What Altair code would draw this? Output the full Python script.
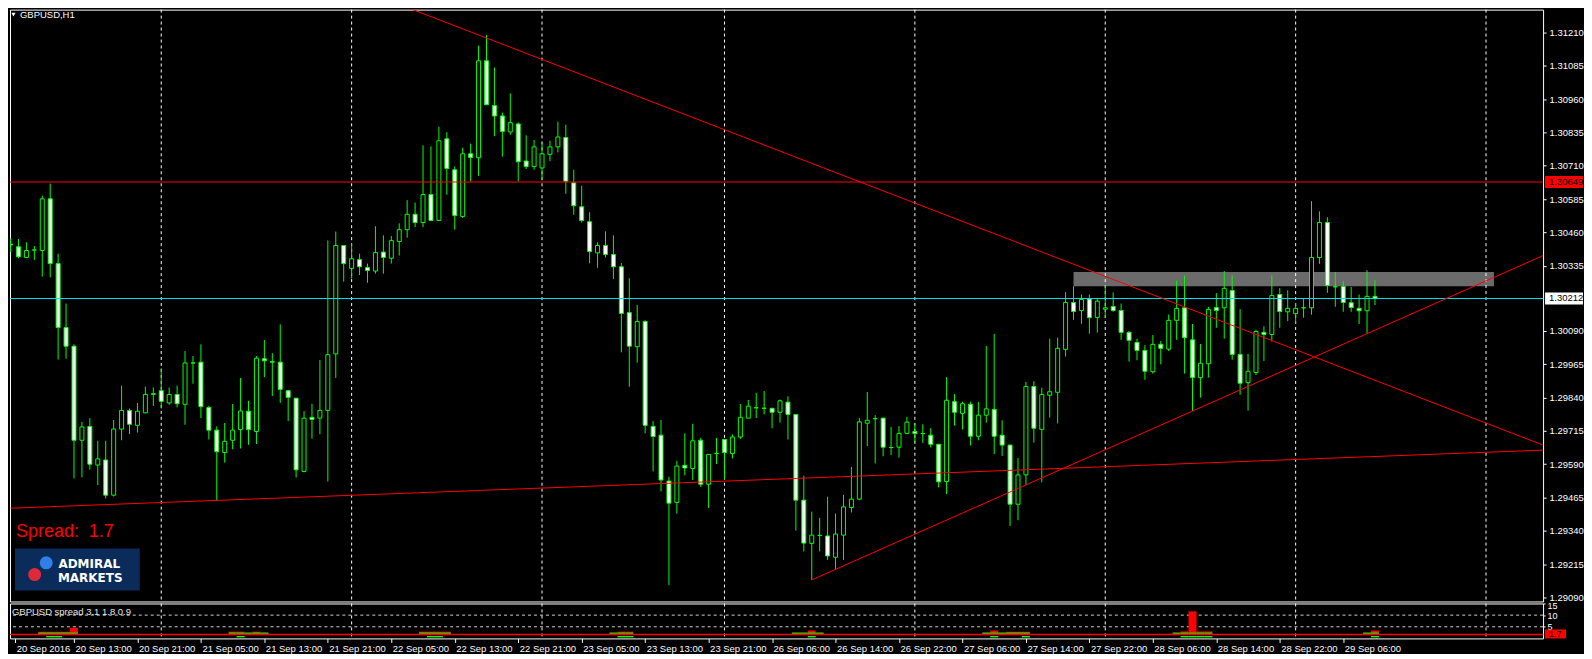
import json
import altair as alt
import pandas as pd

# ---------------- data (GBPUSD H1, bars indexed from 20 Sep 2016 05:00) ----------------
opens = [1.30416, 1.30406, 1.30366, 1.30394, 1.30392, 1.30586, 1.30343, 1.30103, 1.30033, 1.29680,
         1.29732, 1.29587, 1.29606, 1.29474, 1.29722, 1.29792, 1.29736, 1.29783, 1.29852, 1.29866,
         1.29820, 1.29852, 1.29815, 1.29970, 1.29973, 1.29803, 1.29718, 1.29634, 1.29680, 1.29720,
         1.29789, 1.29713, 1.29986, 1.29975, 1.29973, 1.29866, 1.29838, 1.29563, 1.29766, 1.29763,
         1.29792, 1.30004, 1.30411, 1.30325, 1.30358, 1.30328, 1.30315, 1.30386, 1.30363, 1.30426,
         1.30470, 1.30528, 1.30497, 1.30602, 1.30505, 1.30811, 1.30695, 1.30520, 1.30755, 1.30740,
         1.31104, 1.30936, 1.30897, 1.30837, 1.30867, 1.30728, 1.30707, 1.30702, 1.30753, 1.30781,
         1.30816, 1.30646, 1.30556, 1.30500, 1.30383, 1.30411, 1.30377, 1.30331, 1.30159, 1.30031,
         1.30126, 1.29732, 1.29699, 1.29527, 1.29447, 1.29586, 1.29574, 1.29680, 1.29515, 1.29630,
         1.29683, 1.29630, 1.29692, 1.29763, 1.29802, 1.29800, 1.29800, 1.29785, 1.29823, 1.29777,
         1.29455, 1.29293, 1.29323, 1.29321, 1.29241, 1.29324, 1.29428, 1.29459, 1.29744, 1.29761,
         1.29763, 1.29653, 1.29654, 1.29706, 1.29713, 1.29705, 1.29699, 1.29665, 1.29525, 1.29825,
         1.29781, 1.29815, 1.29695, 1.29774, 1.29796, 1.29699, 1.29662, 1.29440, 1.29550, 1.29882,
         1.29721, 1.29849, 1.29860, 1.30021, 1.30197, 1.30167, 1.30210, 1.30141, 1.30172, 1.30182,
         1.30167, 1.30085, 1.30047, 1.30017, 1.29937, 1.30040, 1.30022, 1.30130, 1.30177, 1.30057,
         1.29915, 1.29967, 1.30178, 1.30177, 1.30242, 1.30002, 1.29896, 1.29934, 1.30085, 1.30077,
         1.30227, 1.30162, 1.30155, 1.30177, 1.30177, 1.30366, 1.30497, 1.30256, 1.30257, 1.30196,
         1.30175, 1.30166, 1.30220]
highs = [1.30437, 1.30435, 1.30423, 1.30409, 1.30598, 1.30643, 1.30380, 1.30193, 1.30040, 1.29749,
         1.29763, 1.29678, 1.29678, 1.29756, 1.29885, 1.29799, 1.29820, 1.29881, 1.29878, 1.29950,
         1.29878, 1.29885, 1.30015, 1.29996, 1.30040, 1.29809, 1.29732, 1.29745, 1.29816, 1.29914,
         1.29828, 1.29996, 1.30056, 1.30007, 1.30115, 1.29869, 1.29838, 1.29789, 1.29817, 1.29981,
         1.30430, 1.30463, 1.30411, 1.30417, 1.30380, 1.30343, 1.30483, 1.30449, 1.30446, 1.30494,
         1.30581, 1.30572, 1.30787, 1.30783, 1.30857, 1.30836, 1.30707, 1.30778, 1.30793, 1.31161,
         1.31201, 1.31079, 1.30910, 1.30982, 1.30873, 1.30824, 1.30807, 1.30798, 1.30804, 1.30876,
         1.30864, 1.30695, 1.30635, 1.30536, 1.30423, 1.30464, 1.30449, 1.30345, 1.30288, 1.30188,
         1.30130, 1.29752, 1.29756, 1.29543, 1.29603, 1.29706, 1.29742, 1.29689, 1.29627, 1.29689,
         1.29683, 1.29702, 1.29816, 1.29831, 1.29858, 1.29865, 1.29800, 1.29833, 1.29845, 1.29777,
         1.29547, 1.29412, 1.29389, 1.29468, 1.29405, 1.29475, 1.29580, 1.29764, 1.29861, 1.29774,
         1.29763, 1.29730, 1.29733, 1.29768, 1.29743, 1.29740, 1.29725, 1.29665, 1.29917, 1.29853,
         1.29825, 1.29825, 1.29824, 1.30034, 1.30079, 1.29755, 1.29662, 1.29614, 1.29899, 1.29902,
         1.29877, 1.30061, 1.30065, 1.30236, 1.30258, 1.30227, 1.30227, 1.30210, 1.30261, 1.30235,
         1.30193, 1.30090, 1.30061, 1.30037, 1.30075, 1.30052, 1.30152, 1.30279, 1.30298, 1.30116,
         1.30041, 1.30181, 1.30232, 1.30315, 1.30299, 1.30172, 1.30004, 1.30095, 1.30108, 1.30299,
         1.30251, 1.30243, 1.30195, 1.30212, 1.30577, 1.30539, 1.30517, 1.30311, 1.30277, 1.30255,
         1.30227, 1.30318, 1.30281]
lows = [1.30387, 1.30363, 1.30363, 1.30357, 1.30294, 1.30291, 1.29983, 1.29986, 1.29537, 1.29541,
        1.29570, 1.29512, 1.29462, 1.29469, 1.29680, 1.29703, 1.29709, 1.29781, 1.29809, 1.29799,
        1.29813, 1.29803, 1.29738, 1.29892, 1.29763, 1.29683, 1.29455, 1.29596, 1.29646, 1.29649,
        1.29663, 1.29666, 1.29917, 1.29846, 1.29820, 1.29752, 1.29540, 1.29560, 1.29686, 1.29703,
        1.29525, 1.29914, 1.30275, 1.30287, 1.30300, 1.30271, 1.30305, 1.30305, 1.30343, 1.30373,
        1.30440, 1.30480, 1.30480, 1.30502, 1.30502, 1.30601, 1.30470, 1.30515, 1.30652, 1.30672,
        1.30939, 1.30821, 1.30744, 1.30826, 1.30652, 1.30698, 1.30695, 1.30658, 1.30727, 1.30760,
        1.30605, 1.30526, 1.30497, 1.30344, 1.30327, 1.30366, 1.30285, 1.30010, 1.29881, 1.29971,
        1.29706, 1.29563, 1.29488, 1.29136, 1.29405, 1.29548, 1.29531, 1.29505, 1.29426, 1.29591,
        1.29534, 1.29612, 1.29685, 1.29763, 1.29763, 1.29777, 1.29725, 1.29746, 1.29683, 1.29341,
        1.29263, 1.29156, 1.29263, 1.29231, 1.29196, 1.29231, 1.29409, 1.29455, 1.29658, 1.29593,
        1.29620, 1.29625, 1.29615, 1.29703, 1.29671, 1.29670, 1.29653, 1.29503, 1.29478, 1.29735,
        1.29720, 1.29660, 1.29680, 1.29746, 1.29628, 1.29621, 1.29358, 1.29380, 1.29513, 1.29671,
        1.29522, 1.29765, 1.29743, 1.29994, 1.30132, 1.30117, 1.30080, 1.30084, 1.30140, 1.30162,
        1.30057, 1.29975, 1.29980, 1.29907, 1.29930, 1.29965, 1.30015, 1.30057, 1.29930, 1.29790,
        1.29840, 1.29915, 1.30102, 1.30061, 1.29982, 1.29851, 1.29791, 1.29925, 1.29977, 1.30051,
        1.30102, 1.30127, 1.30117, 1.30140, 1.30151, 1.30342, 1.30233, 1.30181, 1.30162, 1.30162,
        1.30116, 1.30082, 1.30187]
closes = [1.30413, 1.30369, 1.30392, 1.30394, 1.30586, 1.30343, 1.30103, 1.30033, 1.29680, 1.29730,
          1.29590, 1.29610, 1.29474, 1.29722, 1.29792, 1.29740, 1.29789, 1.29852, 1.29855, 1.29826,
          1.29852, 1.29817, 1.29970, 1.29970, 1.29806, 1.29718, 1.29637, 1.29676, 1.29718, 1.29790,
          1.29720, 1.29988, 1.29978, 1.29973, 1.29871, 1.29841, 1.29569, 1.29763, 1.29758, 1.29792,
          1.30001, 1.30411, 1.30343, 1.30361, 1.30331, 1.30317, 1.30384, 1.30366, 1.30429, 1.30470,
          1.30528, 1.30497, 1.30602, 1.30505, 1.30804, 1.30700, 1.30523, 1.30755, 1.30741, 1.31104,
          1.30939, 1.30897, 1.30839, 1.30872, 1.30725, 1.30707, 1.30781, 1.30755, 1.30781, 1.30818,
          1.30652, 1.30560, 1.30505, 1.30388, 1.30411, 1.30377, 1.30331, 1.30156, 1.30033, 1.30126,
          1.29736, 1.29694, 1.29531, 1.29444, 1.29583, 1.29576, 1.29678, 1.29515, 1.29627, 1.29630,
          1.29634, 1.29692, 1.29766, 1.29808, 1.29802, 1.29800, 1.29785, 1.29828, 1.29777, 1.29455,
          1.29294, 1.29324, 1.29323, 1.29246, 1.29328, 1.29430, 1.29459, 1.29749, 1.29755, 1.29761,
          1.29654, 1.29653, 1.29706, 1.29748, 1.29705, 1.29705, 1.29665, 1.29524, 1.29830, 1.29785,
          1.29817, 1.29695, 1.29774, 1.29798, 1.29695, 1.29662, 1.29440, 1.29550, 1.29882, 1.29725,
          1.29852, 1.29862, 1.30025, 1.30197, 1.30163, 1.30208, 1.30140, 1.30202, 1.30177, 1.30167,
          1.30085, 1.30055, 1.30017, 1.29939, 1.30040, 1.30025, 1.30130, 1.30175, 1.30065, 1.29915,
          1.29969, 1.30171, 1.30167, 1.30250, 1.30002, 1.29894, 1.29939, 1.30088, 1.30077, 1.30223,
          1.30163, 1.30175, 1.30175, 1.30177, 1.30366, 1.30497, 1.30261, 1.30256, 1.30197, 1.30178,
          1.30166, 1.30220, 1.30213]
bar_index = list(range(len(opens)))

tick_idx = [0, 8, 16, 24, 32, 40, 48, 56, 64, 72, 80, 88, 96, 104, 112, 120, 128, 136, 144, 152, 160, 168]
tick_labels = ["20 Sep 2016", "20 Sep 13:00", "20 Sep 21:00", "21 Sep 05:00", "21 Sep 13:00",
               "21 Sep 21:00", "22 Sep 05:00", "22 Sep 13:00", "22 Sep 21:00", "23 Sep 05:00",
               "23 Sep 13:00", "23 Sep 21:00", "26 Sep 06:00", "26 Sep 14:00", "26 Sep 22:00",
               "27 Sep 06:00", "27 Sep 14:00", "27 Sep 22:00", "28 Sep 06:00", "28 Sep 14:00",
               "28 Sep 22:00", "29 Sep 06:00"]
day_sep_idx = [19, 43, 67, 90, 114, 138, 162, 186]

price_ticks = [1.31210, 1.31085, 1.30960, 1.30835, 1.30710, 1.30585, 1.30460, 1.30335,
               1.30090, 1.29965, 1.29840, 1.29715, 1.29590, 1.29465, 1.29340, 1.29215, 1.29090]
level_price = 1.30649
bid_price = 1.30212

zone_x = [134, 187]
zone_p = [1.30258, 1.30311]

trend_name = ["down", "down", "up", "up", "base", "base"]
trend_x = [48.7, 193.19, 101, 193.19, 0, 193.19]
trend_p = [1.31319, 1.29662, 1.29156, 1.30373, 1.29425, 1.29643]

spread_idx = [4, 5, 6, 7, 8, 28, 29, 30, 31, 32, 52, 53, 54, 55, 76, 77, 78,
              99, 100, 101, 102, 123, 124, 125, 126, 127, 128, 147, 148, 149, 150, 151, 171, 172]
spread_max = [2.85, 2.85, 2.85, 2.85, 4.6, 2.9, 2.9, 2.4, 2.9, 2.4, 2.9, 2.9, 2.9, 2.9, 2.4, 2.9, 2.9,
              2.4, 2.4, 3.4, 2.4, 2.4, 3.4, 2.4, 2.85, 2.85, 2.85, 2.4, 3.0, 11.6, 3.0, 3.0, 2.4, 3.4]
spread_avg = [2.3] * len(spread_idx)
spread_low_idx = [5, 6, 29, 53, 54, 77, 78, 101, 124, 128, 148, 149, 150, 151, 172]
spread_low_lo = [0.45] * len(spread_low_idx)
spread_low_hi = [1.05] * len(spread_low_idx)
spread_now = 1.7
spread_levels = [5, 10]
spread_ticks = [5, 10, 15]

# ---------------- styling ----------------
FONT = "Liberation Sans"
LIME = "#00ff00"
W, H_MAIN, H_SPREAD = 1536, 593, 35
X_DOMAIN = [0.5625, 0.5625 + W / 8]
Y_DOMAIN = [1.29075, 1.31296]

xs = alt.Scale(domain=X_DOMAIN, nice=False, zero=False)
ys = alt.Scale(domain=Y_DOMAIN, nice=False, zero=False)
ss = alt.Scale(domain=[0, 15], nice=False, zero=False)
NOX = alt.X("i:Q", scale=xs, axis=None)

price_axis = alt.Axis(orient="right", values=price_ticks, format=".5f", title=None, grid=False,
                      domain=False, tickSize=3, tickColor="white", labelColor="white",
                      labelFont=FONT, labelFontSize=9.5, labelPadding=3, labelOverlap=False)
tick_vals = [max(v, X_DOMAIN[0] + 0.02) for v in tick_idx]
x_axis = alt.Axis(orient="bottom", values=tick_vals, title=None, grid=False, domain=False,
                  labelExpr=f"{json.dumps(tick_labels)}[round(datum.value/8)]",
                  labelAlign="left", labelBaseline="top", labelFlush=False, labelOverlap=False,
                  tickSize=4, tickColor="white", labelColor="white", labelFont=FONT,
                  labelFontSize=9.5, labelPadding=1, labelOffset=1)
s_axis = alt.Axis(orient="right", values=spread_ticks, title=None, grid=False, domain=False,
                  tickSize=2, tickColor="white", labelColor="white", labelFont=FONT,
                  labelFontSize=9, labelPadding=2, labelFlush=True, labelFlushOffset=2,
                  labelOverlap=False)


def PY(field):
    return alt.Y(field, scale=ys, axis=price_axis)


def SY(field):
    return alt.Y(field, scale=ss, axis=s_axis)


def SX(field):
    return alt.X(field, scale=xs, axis=x_axis)


candles = pd.DataFrame({"i": bar_index, "open": opens, "high": highs, "low": lows, "close": closes})
candles["dir"] = ["bear" if c < o else "bull" for o, c in zip(opens, closes)]
one = pd.DataFrame({"v": [0]})

zone = alt.Chart(pd.DataFrame({"x0": [zone_x[0]], "x1": [zone_x[1]], "p0": [zone_p[0]], "p1": [zone_p[1]]})
                 ).mark_rect(color="#6b6b6b", clip=True).encode(
    x=alt.X("x0:Q", scale=xs, axis=None), x2="x1:Q", y=PY("p0:Q"), y2="p1:Q")

seps_main = alt.Chart(pd.DataFrame({"i": day_sep_idx})).mark_rule(
    color="white", strokeDash=[3, 3], strokeWidth=1).encode(x=NOX)

wicks = alt.Chart(candles).mark_rule(color=LIME, strokeWidth=1, clip=True).encode(
    x=NOX, y=PY("low:Q"), y2="high:Q")

bodies = alt.Chart(candles).mark_bar(size=4, stroke=LIME, strokeWidth=1, clip=True).encode(
    x=NOX, y=PY("open:Q"), y2="close:Q",
    fill=alt.Fill("dir:N", scale=alt.Scale(domain=["bear", "bull"], range=["#ffffff", "#000000"]), legend=None))

hl_df = pd.DataFrame({"p": [level_price, bid_price], "c": ["#ff0000", "#00e0e8"]})
hlines = alt.Chart(hl_df).mark_rule(strokeWidth=1).encode(
    y=PY("p:Q"), color=alt.Color("c:N", scale=None))

trends = alt.Chart(pd.DataFrame({"name": trend_name, "x": trend_x, "p": trend_p})).mark_line(
    color="#ff0000", strokeWidth=1, clip=True).encode(
    x=alt.X("x:Q", scale=xs, axis=None), y=PY("p:Q"), detail="name:N")

box_df = pd.DataFrame({"p": [level_price, bid_price], "fill": ["#ff0000", "#ffffff"],
                       "label": [f"{level_price:.5f}", f"{bid_price:.5f}"]})
boxes = alt.Chart(box_df).mark_rect(yOffset=-6, y2Offset=6).encode(
    x=alt.value(W + 2), x2=alt.value(W + 40),
    y=PY("p:Q"), y2="p:Q", fill=alt.Fill("fill:N", scale=None))
box_txt = alt.Chart(box_df).mark_text(align="left", baseline="middle", font=FONT, fontSize=9.5,
                                      color="black").encode(
    x=alt.value(W + 6), y=PY("p:Q"), text="label:N")

tri = alt.Chart(one).mark_point(shape="triangle-down", filled=True, size=18, color="white",
                                opacity=1).encode(x=alt.value(3.5), y=alt.value(5))
title_txt = alt.Chart(one).mark_text(text="GBPUSD,H1", align="left", baseline="middle", font=FONT,
                                     fontSize=9.5, color="white").encode(x=alt.value(10), y=alt.value(5))
spread_big = alt.Chart(one).mark_text(text="Spread:\u00a0 1.7", align="left", baseline="alphabetic",
                                      font=FONT, fontSize=18, color="#ff0000").encode(
    x=alt.value(6), y=alt.value(528))
logo_box = alt.Chart(one).mark_rect(color="#0b2b5b").encode(
    x=alt.value(5), x2=alt.value(130), y=alt.value(540), y2=alt.value(582))
logo_blue = alt.Chart(one).mark_circle(size=170, color="#2f7fe6", opacity=1).encode(
    x=alt.value(36.3), y=alt.value(554.3))
logo_red = alt.Chart(one).mark_circle(size=170, color="#dc2a3c", opacity=1).encode(
    x=alt.value(24.7), y=alt.value(566))
logo_t1 = alt.Chart(one).mark_text(text="ADMIRAL", align="left", baseline="alphabetic", font="DejaVu Sans",
                                   fontWeight="bold", fontSize=12, color="white").encode(
    x=alt.value(48.5), y=alt.value(559))
logo_t2 = alt.Chart(one).mark_text(text="MARKETS", align="left", baseline="alphabetic", font="DejaVu Sans",
                                   fontWeight="bold", fontSize=12, color="white").encode(
    x=alt.value(48), y=alt.value(573.5))

main = alt.layer(zone, seps_main, wicks, bodies, hlines, trends, boxes, box_txt, tri, title_txt,
                 spread_big, logo_box, logo_blue, logo_red, logo_t1, logo_t2).properties(
    width=W, height=H_MAIN)

# ---------------- spread sub-window ----------------
sp_df = pd.DataFrame({"i": spread_idx, "base": [spread_now] * len(spread_idx), "mx": spread_max,
                      "avg": spread_avg})
sp_low = pd.DataFrame({"i": spread_low_idx, "lo": spread_low_lo, "hi": spread_low_hi})

red_bars = alt.Chart(sp_df).mark_bar(size=8, color="#ff0000").encode(
    x=SX("i:Q"), y=SY("base:Q"), y2="mx:Q")
avg_lines = alt.Chart(sp_df).transform_calculate(x0="datum.i - 0.5", x1="datum.i + 0.5").mark_rule(
    color=LIME, strokeWidth=1).encode(x=SX("x0:Q"), x2="x1:Q", y=SY("avg:Q"))
low_bars = alt.Chart(sp_low).mark_bar(size=8, color=LIME).encode(
    x=SX("i:Q"), y=SY("lo:Q"), y2="hi:Q")
lvl_dash = alt.Chart(pd.DataFrame({"s": spread_levels})).mark_rule(
    color="#cfcfcf", strokeDash=[3, 3], strokeWidth=1).encode(y=SY("s:Q"))
now_line = alt.Chart(pd.DataFrame({"s": [spread_now]})).mark_rule(color="#ff0000", strokeWidth=1.5).encode(
    y=SY("s:Q"))
seps_sp = alt.Chart(pd.DataFrame({"i": day_sep_idx})).mark_rule(
    color="white", strokeDash=[3, 3], strokeWidth=1).encode(x=SX("i:Q"))
sp_title = alt.Chart(one).mark_text(text="GBPUSD spread 3.1 1.8 0.9", align="left", baseline="middle",
                                    font=FONT, fontSize=9.5, color="#e6e6e6").encode(
    x=alt.value(2), y=alt.value(9))
now_df = pd.DataFrame({"s": [spread_now], "label": [f"{spread_now:.1f}"]})
now_box = alt.Chart(now_df).mark_rect(yOffset=-5, y2Offset=4, color="#ff0000").encode(
    x=alt.value(W + 2), x2=alt.value(W + 23), y=SY("s:Q"), y2="s:Q")
now_txt = alt.Chart(now_df).mark_text(
    align="left", baseline="middle", font=FONT, fontSize=9, color="black").encode(
    x=alt.value(W + 6), y=SY("s:Q"), text="label:N")

spread = alt.layer(seps_sp, lvl_dash, red_bars, now_line, avg_lines, low_bars, sp_title,
                   now_box, now_txt).properties(width=W, height=H_SPREAD)

chart = alt.vconcat(main, spread, spacing=2, bounds="flush").properties(
    padding=0, background="#000000").configure_view(stroke="#ffffff", strokeWidth=1)

chart.save("out.html", embed_options={"renderer": "svg", "actions": False})
